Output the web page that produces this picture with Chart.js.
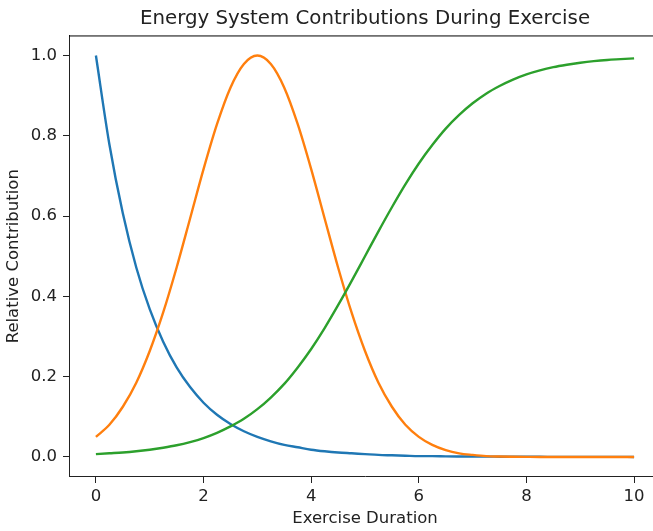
<!DOCTYPE html>
<html>
<head>
<meta charset="utf-8">
<script src="https://cdn.jsdelivr.net/npm/chart.js@4.4.1/dist/chart.umd.min.js"></script>
<style>
  html, body { margin: 0; padding: 0; background: #fff; overflow: hidden; }
  #wrap { width: 665px; height: 531px; }
</style>
</head>
<body>
<div id="wrap"><canvas id="energyChart" width="665" height="531"></canvas></div>
<script>
// Exercise duration samples (x axis)
const duration = [0, 0.25, 0.5, 0.75, 1, 1.25, 1.5, 1.75, 2, 2.25, 2.5, 2.75, 3, 3.25, 3.5, 3.75,
    4, 4.25, 4.5, 4.75, 5, 5.25, 5.5, 5.75, 6, 6.25, 6.5, 6.75, 7, 7.25, 7.5, 7.75,
    8, 8.25, 8.5, 8.75, 9, 9.25, 9.5, 9.75, 10];

// Blue curve
const blueValues = [1.000, 0.779, 0.607, 0.472, 0.368, 0.287, 0.223, 0.174, 0.135, 0.105, 0.082, 0.064,
    0.050, 0.039, 0.030, 0.024, 0.018, 0.014, 0.011, 0.009, 0.007, 0.005, 0.004, 0.003,
    0.002, 0.002, 0.0015, 0.0012, 0.001, 0.0007, 0.0006, 0.0004, 0.0003, 0.0003, 0.0002, 0.0002,
    0.0001, 0.0001, 0.0001, 0.0001, 0];

// Orange curve (peak around 3)
const orangeValues = [0.050, 0.080, 0.125, 0.185, 0.264, 0.360, 0.472, 0.594, 0.717, 0.829, 0.920, 0.979,
    1.000, 0.979, 0.920, 0.829, 0.717, 0.594, 0.472, 0.360, 0.264, 0.185, 0.125, 0.080,
    0.050, 0.030, 0.017, 0.009, 0.005, 0.002, 0.001, 0.0005, 0.0002, 0, 0, 0, 0, 0, 0, 0, 0];

// Green curve (rises to ~1)
const greenValues = [0.007, 0.009, 0.011, 0.014, 0.018, 0.023, 0.029, 0.037, 0.047, 0.060, 0.076, 0.095,
    0.119, 0.148, 0.182, 0.223, 0.269, 0.321, 0.378, 0.438, 0.500, 0.562, 0.622, 0.679,
    0.731, 0.777, 0.818, 0.852, 0.881, 0.905, 0.924, 0.940, 0.953, 0.963, 0.971, 0.977,
    0.982, 0.986, 0.989, 0.991, 0.993];

const xTicks = [0, 2, 4, 6, 8, 10];
const yTicks = [0, 0.2, 0.4, 0.6, 0.8, 1.0];

function toPoints(values) {
    return values.map((v, i) => ({ x: duration[i], y: v }));
}

// draws the top and right spines
const frame = {
    id: 'frame',
    afterDraw(chart) {
        const { ctx, chartArea: a } = chart;
        ctx.save();
        ctx.strokeStyle = '#000';
        ctx.lineWidth = 1;
        ctx.beginPath();
        ctx.moveTo(a.left, a.top + 0.5);
        ctx.lineTo(a.right, a.top + 0.5);
        ctx.lineTo(a.right, a.bottom);
        ctx.stroke();
        ctx.restore();
    }
};

// order: lower number is drawn on top (green over orange over blue)
function lineSet(label, values, color, order) {
    return {
        label: label,
        data: toPoints(values),
        borderColor: color,
        backgroundColor: color,
        borderWidth: 2.4,
        pointRadius: 0,
        cubicInterpolationMode: 'monotone',
        fill: false,
        order: order
    };
}

document.addEventListener('DOMContentLoaded', () => {
    const ctx = document.getElementById('energyChart').getContext('2d');
    Chart.defaults.font.family = '"DejaVu Sans", sans-serif';
    Chart.defaults.color = '#000';

    new Chart(ctx, {
        type: 'line',
        data: {
            datasets: [
                lineSet('Blue', blueValues, '#1f77b4', 3),
                lineSet('Orange', orangeValues, '#ff7f0e', 2),
                lineSet('Green', greenValues, '#2ca02c', 1)
            ]
        },
        options: {
            responsive: false,
            animation: false,
            devicePixelRatio: 1,
            layout: { padding: { left: 0, right: 4, top: 0, bottom: 0 } },
            plugins: {
                legend: { display: false },
                tooltip: { enabled: false },
                title: {
                    display: true,
                    text: 'Energy System Contributions During Exercise',
                    fullSize: false,
                    font: { size: 19.8, weight: 'normal' },
                    color: '#222',
                    padding: { top: 7, bottom: 4.7 }
                }
            },
            scales: {
                x: {
                    type: 'linear',
                    min: -0.5,
                    max: 10.5,
                    afterBuildTicks: scale => { scale.ticks = xTicks.map(v => ({ value: v })); },
                    afterFit: scale => { scale.height = 54; },
                    grid: { drawOnChartArea: false, drawTicks: true, tickLength: 6, tickColor: '#222' },
                    border: { display: true, color: '#222', width: 1 },
                    ticks: { font: { size: 16.5 }, color: '#222', padding: 4, maxRotation: 0 },
                    title: {
                        display: true,
                        text: 'Exercise Duration',
                        font: { size: 16.5 },
                        color: '#222',
                        padding: { top: 0, bottom: 2.6 }
                    }
                },
                y: {
                    type: 'linear',
                    min: -0.05,
                    max: 1.05,
                    afterBuildTicks: scale => { scale.ticks = yTicks.map(v => ({ value: v })); },
                    afterFit: scale => { scale.width = 69; },
                    grid: { drawOnChartArea: false, drawTicks: true, tickLength: 6, tickColor: '#222' },
                    border: { display: true, color: '#222', width: 1 },
                    ticks: {
                        font: { size: 16.5 },
                        color: '#222',
                        padding: 6,
                        callback: v => v.toFixed(1)
                    },
                    title: {
                        display: true,
                        text: 'Relative Contribution',
                        font: { size: 16.5 },
                        color: '#222',
                        padding: { top: 4, bottom: 0 }
                    }
                }
            }
        },
        plugins: [frame]
    });
});
</script>
</body>
</html>
